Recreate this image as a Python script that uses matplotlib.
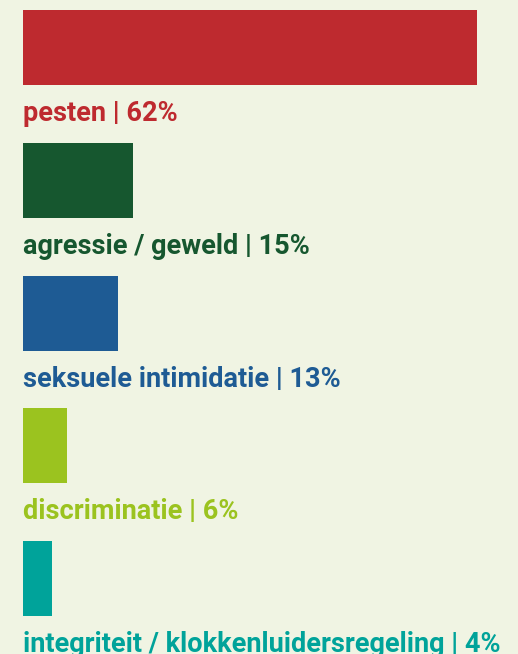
import matplotlib.pyplot as plt

categories = ["pesten", "agressie / geweld", "seksuele intimidatie",
              "discriminatie", "integriteit / klokkenluidersregeling"]
percentages = [62, 15, 13, 6, 4]
colors = ["#be2a2f", "#16572f", "#1e5b94", "#9bc31f", "#00a39a"]

bg = "#f0f4e3"

fig = plt.figure(figsize=(5.18, 6.54), dpi=100, facecolor=bg)
ax = fig.add_axes([0, 0, 1, 1], facecolor=bg)

px_per_pct = 7.32
step = 132.75
ypos = list(range(len(categories)))

ax.barh(ypos, percentages, height=75 / step, color=colors, align="center")

for i, (cat, pct, col) in enumerate(zip(categories, percentages, colors)):
    ax.text(0, i + 66 / step, f"{cat} | {pct}%", color=col,
            fontsize=19.5, fontweight="bold", family="Roboto",
            va="center", ha="left")

ax.set_xlim(-23 / px_per_pct, (518 - 23) / px_per_pct)
ax.set_ylim((654 - 47.5) / step, -47.5 / step)
ax.axis("off")

fig.savefig("out.png", dpi=100, facecolor=bg)
